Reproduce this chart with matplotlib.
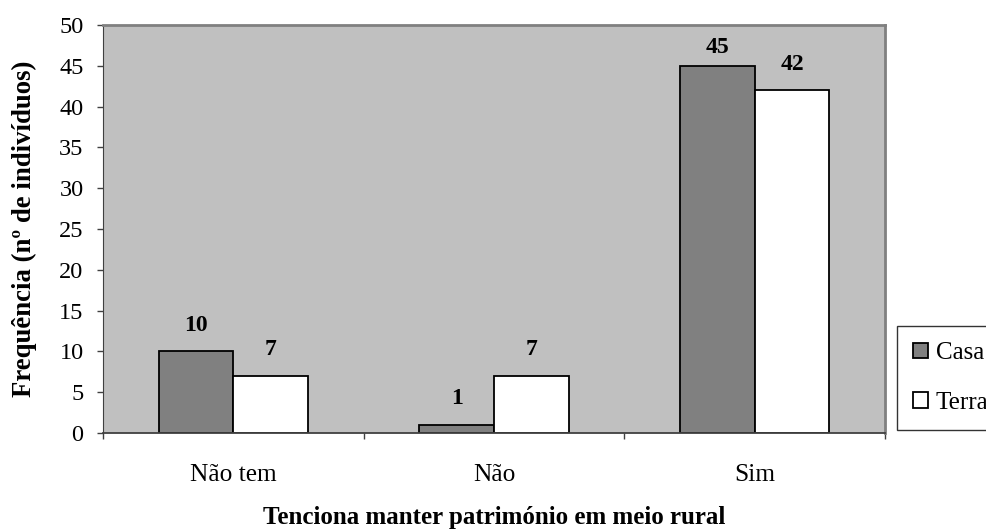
import numpy as np
import matplotlib as mpl
mpl.use('Agg')
import matplotlib.pyplot as plt

categories = ['Não tem', 'Não', 'Sim']
casa = [10, 1, 45]
terra = [7, 7, 42]
series_names = ['Casa', 'Terra']

plt.rcParams['font.family'] = ['Liberation Serif', 'DejaVu Serif']

fig = plt.figure(figsize=(9.87, 5.29), dpi=100)
ax = fig.add_axes([103/987, 1 - 433/529, 782/987, 408/529])
ax.set_facecolor('#C0C0C0')

x = np.arange(len(categories))
w = 0.286
b1 = ax.bar(x - w/2, casa, w, color='#808080', edgecolor='black', linewidth=1.3, label=series_names[0])
b2 = ax.bar(x + w/2, terra, w, color='white', edgecolor='black', linewidth=1.3, label=series_names[1])

# value labels above bars, kept inside the plot area like Excel does
for bars in (b1, b2):
    for r in bars:
        h = r.get_height()
        ax.text(r.get_x() + r.get_width()/2, min(h + 2.5, 46.6), f'{int(h)}',
                ha='center', va='baseline', fontsize=17, fontweight='bold')

ax.set_xlim(-0.5, 2.5)
ax.set_ylim(0, 50)
ax.set_yticks(range(0, 51, 5))
ax.set_xticks(x)
ax.set_xticklabels(categories)
ax.set_xticks([-0.5, 0.5, 1.5, 2.5], minor=True)
ax.tick_params(axis='x', which='major', length=0, pad=22, labelsize=18.3)
ax.tick_params(axis='x', which='minor', length=4, width=1, color='#404040', direction='out')
ax.tick_params(axis='y', length=4, width=1, color='#404040', direction='out', labelsize=17.5, pad=10)

for s in ('top', 'right'):
    ax.spines[s].set_color('#808080')
    ax.spines[s].set_linewidth(2)
ax.spines['left'].set_color('#404040')
ax.spines['bottom'].set_color('#404040')
ax.spines['bottom'].set_linewidth(1.3)

fig.text(24/987, 1 - 229/529, 'Frequência (nº de indivíduos)', rotation=90, ha='center', va='center',
         fontsize=19.3, fontweight='bold')
fig.text(494/987, 1 - 524/529, 'Tenciona manter património em meio rural', ha='center', va='baseline',
         fontsize=18, fontweight='bold')

leg = fig.legend(loc='lower left', bbox_to_anchor=(897/987, 1 - 430/529), frameon=True, fancybox=False,
                 edgecolor='black', fontsize=18, handlelength=0.6, handleheight=0.56,
                 handletextpad=0.3, labelspacing=1.1, borderpad=0.65, borderaxespad=0)
leg.get_frame().set_linewidth(1)

fig.savefig('out.png', dpi=100)
